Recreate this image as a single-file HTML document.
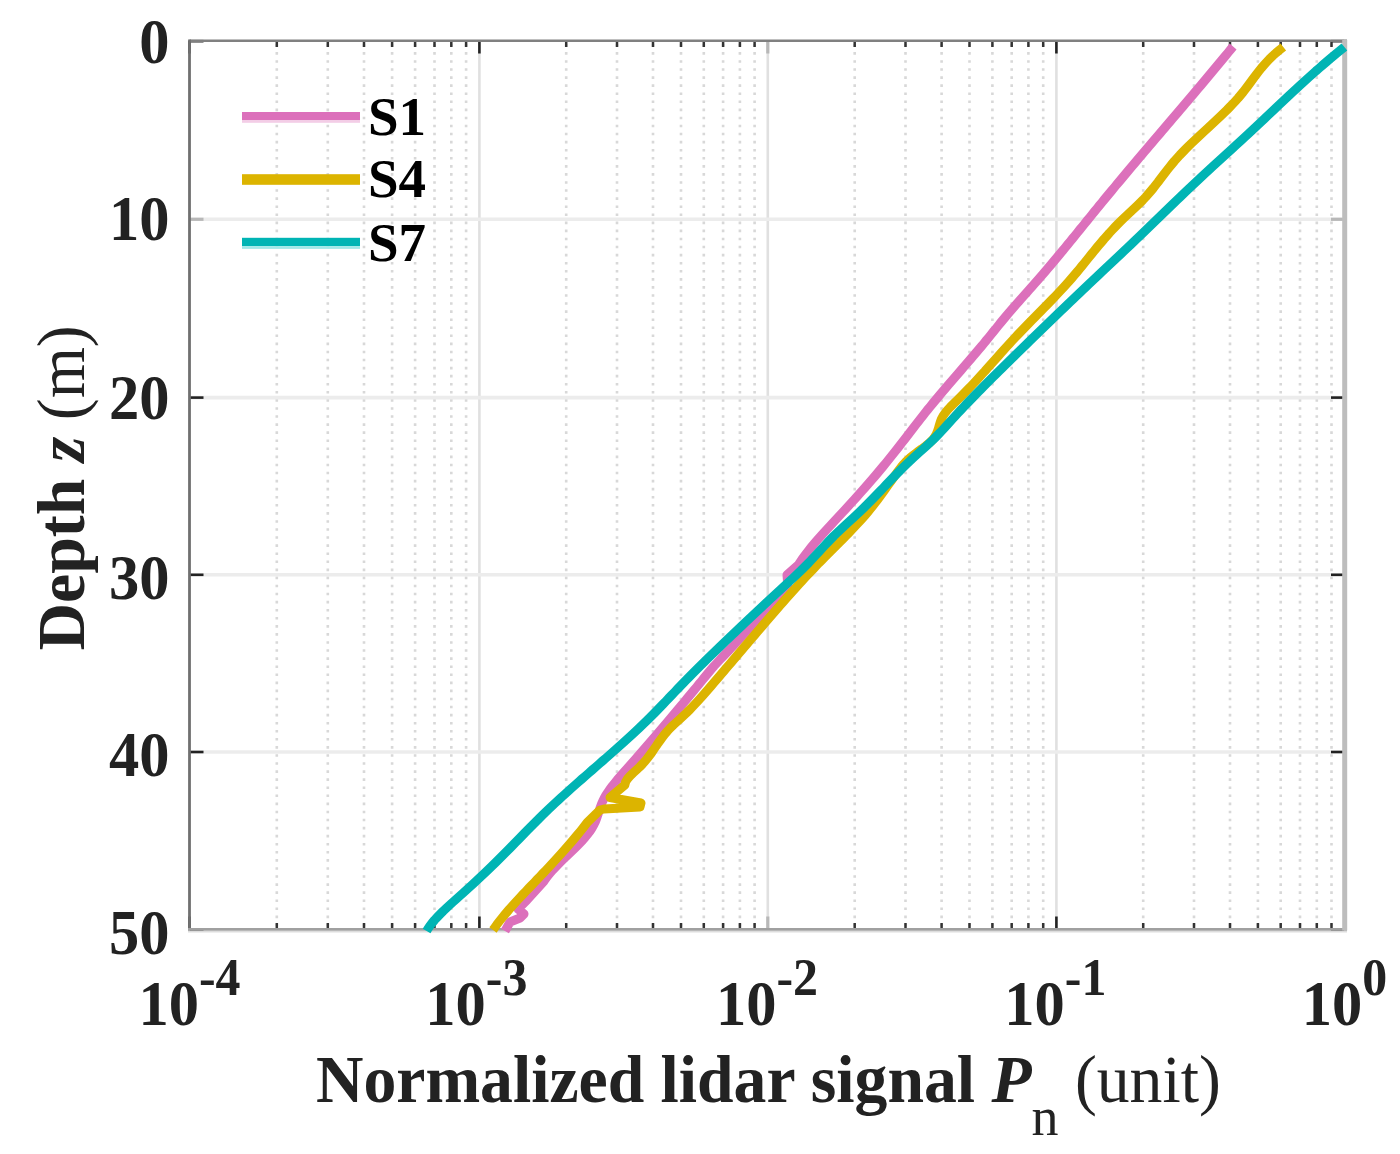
<!DOCTYPE html><html><head><meta charset="utf-8"><style>html,body{margin:0;padding:0;background:#fff;overflow:hidden;}svg{display:block;}text{font-family:"Liberation Serif",serif;}</style></head><body><div id="w">
<svg width="1400" height="1154" viewBox="0 0 1400 1154">
<rect width="1400" height="1154" fill="#fff"/>
<g stroke="#d8d8d8" stroke-width="2.6" stroke-dasharray="2.6 5.47"><line x1="276.8" y1="44" x2="276.8" y2="928"/><line x1="327.8" y1="44" x2="327.8" y2="928"/><line x1="364.0" y1="44" x2="364.0" y2="928"/><line x1="392.1" y1="44" x2="392.1" y2="928"/><line x1="415.1" y1="44" x2="415.1" y2="928"/><line x1="434.5" y1="44" x2="434.5" y2="928"/><line x1="451.3" y1="44" x2="451.3" y2="928"/><line x1="466.1" y1="44" x2="466.1" y2="928"/><line x1="566.2" y1="44" x2="566.2" y2="928"/><line x1="617.0" y1="44" x2="617.0" y2="928"/><line x1="653.0" y1="44" x2="653.0" y2="928"/><line x1="681.0" y1="44" x2="681.0" y2="928"/><line x1="703.8" y1="44" x2="703.8" y2="928"/><line x1="723.1" y1="44" x2="723.1" y2="928"/><line x1="739.9" y1="44" x2="739.9" y2="928"/><line x1="754.6" y1="44" x2="754.6" y2="928"/><line x1="854.7" y1="44" x2="854.7" y2="928"/><line x1="905.5" y1="44" x2="905.5" y2="928"/><line x1="941.6" y1="44" x2="941.6" y2="928"/><line x1="969.5" y1="44" x2="969.5" y2="928"/><line x1="992.4" y1="44" x2="992.4" y2="928"/><line x1="1011.7" y1="44" x2="1011.7" y2="928"/><line x1="1028.4" y1="44" x2="1028.4" y2="928"/><line x1="1043.2" y1="44" x2="1043.2" y2="928"/><line x1="1143.2" y1="44" x2="1143.2" y2="928"/><line x1="1194.0" y1="44" x2="1194.0" y2="928"/><line x1="1230.0" y1="44" x2="1230.0" y2="928"/><line x1="1257.9" y1="44" x2="1257.9" y2="928"/><line x1="1280.7" y1="44" x2="1280.7" y2="928"/><line x1="1300.0" y1="44" x2="1300.0" y2="928"/><line x1="1316.8" y1="44" x2="1316.8" y2="928"/><line x1="1331.5" y1="44" x2="1331.5" y2="928"/></g>
<g stroke="#e0e0e0" stroke-width="2.6"><line x1="479.4" y1="42" x2="479.4" y2="928"/><line x1="767.8" y1="42" x2="767.8" y2="928"/><line x1="1056.4" y1="42" x2="1056.4" y2="928"/></g>
<g stroke="#ececec" stroke-width="3.6"><line x1="191" y1="219.3" x2="1342" y2="219.3"/><line x1="191" y1="397.6" x2="1342" y2="397.6"/><line x1="191" y1="574.8" x2="1342" y2="574.8"/><line x1="191" y1="752.0" x2="1342" y2="752.0"/></g>
<g stroke="#222" stroke-width="2.6"><line x1="190" y1="41.2" x2="203.5" y2="41.2"/><line x1="1331" y1="41.2" x2="1344" y2="41.2"/><line x1="190" y1="397.6" x2="203.5" y2="397.6"/><line x1="1331" y1="397.6" x2="1344" y2="397.6"/><line x1="190" y1="574.8" x2="203.5" y2="574.8"/><line x1="1331" y1="574.8" x2="1344" y2="574.8"/><line x1="190" y1="752.0" x2="203.5" y2="752.0"/><line x1="1331" y1="752.0" x2="1344" y2="752.0"/><line x1="190" y1="929.3" x2="203.5" y2="929.3"/><line x1="1331" y1="929.3" x2="1344" y2="929.3"/><line x1="189.5" y1="929" x2="189.5" y2="916.5"/><line x1="189.5" y1="41" x2="189.5" y2="53.5"/><line x1="479.4" y1="929" x2="479.4" y2="916.5"/><line x1="479.4" y1="41" x2="479.4" y2="53.5"/><line x1="1056.4" y1="929" x2="1056.4" y2="916.5"/><line x1="1056.4" y1="41" x2="1056.4" y2="53.5"/><line x1="1344.7" y1="929" x2="1344.7" y2="916.5"/><line x1="1344.7" y1="41" x2="1344.7" y2="53.5"/></g>
<g stroke="#b8b8b8" stroke-width="3.2"><line x1="190" y1="219.3" x2="203.5" y2="219.3"/><line x1="1331" y1="219.3" x2="1344" y2="219.3"/><line x1="767.8" y1="929" x2="767.8" y2="916.5"/><line x1="767.8" y1="41" x2="767.8" y2="53.5"/></g>
<g stroke="#333" stroke-width="2.5"><line x1="276.8" y1="929" x2="276.8" y2="923"/><line x1="276.8" y1="41" x2="276.8" y2="47"/><line x1="327.8" y1="929" x2="327.8" y2="923"/><line x1="327.8" y1="41" x2="327.8" y2="47"/><line x1="364.0" y1="929" x2="364.0" y2="923"/><line x1="364.0" y1="41" x2="364.0" y2="47"/><line x1="392.1" y1="929" x2="392.1" y2="923"/><line x1="392.1" y1="41" x2="392.1" y2="47"/><line x1="415.1" y1="929" x2="415.1" y2="923"/><line x1="415.1" y1="41" x2="415.1" y2="47"/><line x1="434.5" y1="929" x2="434.5" y2="923"/><line x1="434.5" y1="41" x2="434.5" y2="47"/><line x1="451.3" y1="929" x2="451.3" y2="923"/><line x1="451.3" y1="41" x2="451.3" y2="47"/><line x1="466.1" y1="929" x2="466.1" y2="923"/><line x1="466.1" y1="41" x2="466.1" y2="47"/><line x1="566.2" y1="929" x2="566.2" y2="923"/><line x1="566.2" y1="41" x2="566.2" y2="47"/><line x1="617.0" y1="929" x2="617.0" y2="923"/><line x1="617.0" y1="41" x2="617.0" y2="47"/><line x1="653.0" y1="929" x2="653.0" y2="923"/><line x1="653.0" y1="41" x2="653.0" y2="47"/><line x1="681.0" y1="929" x2="681.0" y2="923"/><line x1="681.0" y1="41" x2="681.0" y2="47"/><line x1="703.8" y1="929" x2="703.8" y2="923"/><line x1="703.8" y1="41" x2="703.8" y2="47"/><line x1="723.1" y1="929" x2="723.1" y2="923"/><line x1="723.1" y1="41" x2="723.1" y2="47"/><line x1="739.9" y1="929" x2="739.9" y2="923"/><line x1="739.9" y1="41" x2="739.9" y2="47"/><line x1="754.6" y1="929" x2="754.6" y2="923"/><line x1="754.6" y1="41" x2="754.6" y2="47"/><line x1="854.7" y1="929" x2="854.7" y2="923"/><line x1="854.7" y1="41" x2="854.7" y2="47"/><line x1="905.5" y1="929" x2="905.5" y2="923"/><line x1="905.5" y1="41" x2="905.5" y2="47"/><line x1="941.6" y1="929" x2="941.6" y2="923"/><line x1="941.6" y1="41" x2="941.6" y2="47"/><line x1="969.5" y1="929" x2="969.5" y2="923"/><line x1="969.5" y1="41" x2="969.5" y2="47"/><line x1="992.4" y1="929" x2="992.4" y2="923"/><line x1="992.4" y1="41" x2="992.4" y2="47"/><line x1="1011.7" y1="929" x2="1011.7" y2="923"/><line x1="1011.7" y1="41" x2="1011.7" y2="47"/><line x1="1028.4" y1="929" x2="1028.4" y2="923"/><line x1="1028.4" y1="41" x2="1028.4" y2="47"/><line x1="1043.2" y1="929" x2="1043.2" y2="923"/><line x1="1043.2" y1="41" x2="1043.2" y2="47"/><line x1="1143.2" y1="929" x2="1143.2" y2="923"/><line x1="1143.2" y1="41" x2="1143.2" y2="47"/><line x1="1194.0" y1="929" x2="1194.0" y2="923"/><line x1="1194.0" y1="41" x2="1194.0" y2="47"/><line x1="1230.0" y1="929" x2="1230.0" y2="923"/><line x1="1230.0" y1="41" x2="1230.0" y2="47"/><line x1="1257.9" y1="929" x2="1257.9" y2="923"/><line x1="1257.9" y1="41" x2="1257.9" y2="47"/><line x1="1280.7" y1="929" x2="1280.7" y2="923"/><line x1="1280.7" y1="41" x2="1280.7" y2="47"/><line x1="1300.0" y1="929" x2="1300.0" y2="923"/><line x1="1300.0" y1="41" x2="1300.0" y2="47"/><line x1="1316.8" y1="929" x2="1316.8" y2="923"/><line x1="1316.8" y1="41" x2="1316.8" y2="47"/><line x1="1331.5" y1="929" x2="1331.5" y2="923"/><line x1="1331.5" y1="41" x2="1331.5" y2="47"/></g>
<line x1="189.5" y1="40.8" x2="1347" y2="40.8" stroke="#808080" stroke-width="2.4"/>
<line x1="189.5" y1="39.6" x2="189.5" y2="930.6" stroke="#707070" stroke-width="2.8"/>
<line x1="188" y1="929.3" x2="1347" y2="929.3" stroke="#a0a0a0" stroke-width="2.8"/>
<line x1="188" y1="931.8" x2="1347" y2="931.8" stroke="#dddddd" stroke-width="1.6"/>
<line x1="1344.7" y1="40" x2="1344.7" y2="930.6" stroke="#bdbdbd" stroke-width="5"/>
<g fill="none" stroke-width="9" stroke-linejoin="round" stroke-linecap="butt">
<polyline stroke="#dc70bb" points="1233.1,46.5 1230.6,49.5 1228.2,52.5 1225.7,55.5 1223.2,58.5 1220.7,61.5 1218.2,64.5 1215.7,67.5 1213.2,70.5 1210.7,73.5 1208.2,76.5 1205.7,79.5 1203.2,82.5 1200.7,85.5 1198.1,88.5 1195.6,91.5 1193.1,94.5 1190.5,97.5 1188.0,100.5 1185.4,103.5 1182.9,106.5 1180.3,109.5 1177.8,112.5 1175.2,115.5 1172.6,118.5 1170.1,121.5 1167.5,124.5 1165.0,127.5 1162.4,130.5 1159.9,133.5 1157.3,136.5 1154.7,139.5 1152.2,142.5 1149.6,145.5 1147.1,148.5 1144.5,151.5 1142.0,154.5 1139.4,157.5 1136.9,160.5 1134.4,163.5 1131.8,166.5 1129.3,169.5 1126.8,172.5 1124.3,175.5 1121.8,178.5 1119.3,181.5 1116.7,184.5 1114.3,187.5 1111.8,190.5 1109.3,193.5 1106.8,196.5 1104.3,199.5 1101.9,202.5 1099.4,205.5 1097.0,208.5 1094.5,211.5 1092.1,214.5 1089.7,217.5 1087.2,220.5 1084.8,223.5 1082.4,226.5 1079.9,229.5 1077.5,232.5 1075.1,235.5 1072.6,238.5 1070.2,241.5 1067.7,244.5 1065.3,247.5 1062.8,250.5 1060.3,253.5 1057.8,256.5 1055.3,259.5 1052.8,262.5 1050.3,265.5 1047.7,268.5 1045.2,271.5 1042.6,274.5 1040.0,277.5 1037.4,280.5 1034.7,283.5 1032.1,286.5 1029.4,289.5 1026.8,292.5 1024.1,295.5 1021.4,298.5 1018.8,301.5 1016.1,304.5 1013.5,307.5 1010.9,310.5 1008.3,313.5 1005.8,316.5 1003.3,319.5 1000.8,322.5 998.4,325.5 996.0,328.5 993.5,331.5 991.1,334.5 988.7,337.5 986.2,340.5 983.8,343.5 981.3,346.5 978.7,349.5 976.2,352.5 973.6,355.5 971.1,358.5 968.5,361.5 965.9,364.5 963.3,367.5 960.8,370.5 958.2,373.5 955.6,376.5 953.0,379.5 950.4,382.5 947.8,385.5 945.3,388.5 942.7,391.5 940.2,394.5 937.7,397.5 935.2,400.5 932.7,403.5 930.3,406.5 927.8,409.5 925.4,412.5 923.1,415.5 920.7,418.5 918.4,421.5 916.0,424.5 913.7,427.5 911.4,430.5 909.1,433.5 906.8,436.5 904.5,439.5 902.1,442.5 899.8,445.5 897.5,448.5 895.1,451.5 892.7,454.5 890.3,457.5 887.9,460.5 885.5,463.5 883.0,466.5 880.5,469.5 878.0,472.5 875.5,475.5 872.9,478.5 870.3,481.5 867.7,484.5 865.1,487.5 862.4,490.5 859.7,493.5 857.1,496.5 854.4,499.5 851.6,502.5 848.9,505.5 846.2,508.5 843.4,511.5 840.6,514.5 837.8,517.5 835.0,520.5 832.3,523.5 829.5,526.5 826.7,529.5 824.0,532.5 821.3,535.5 818.6,538.5 816.0,541.5 813.5,544.5 811.0,547.5 808.6,550.5 806.3,553.5 804.1,556.5 801.9,559.5 799.9,562.5 798.6,564.5 787.0,574.9 788.0,587.9 779.1,597.0 776.9,600.0 774.5,603.0 771.8,606.0 769.1,609.0 766.2,612.0 763.2,615.0 760.1,618.0 757.0,621.0 753.9,624.0 750.9,627.0 747.9,630.0 745.1,633.0 742.3,636.0 739.5,639.0 736.8,642.0 734.0,645.0 731.2,648.0 728.3,651.0 725.4,654.0 722.5,657.0 719.7,660.0 716.9,663.0 714.1,666.0 711.5,669.0 709.0,672.0 706.5,675.0 704.0,678.0 701.6,681.0 699.1,684.0 696.7,687.0 694.2,690.0 691.7,693.0 689.2,696.0 686.7,699.0 684.3,702.0 681.8,705.0 679.2,708.0 676.7,711.0 674.2,714.0 671.7,717.0 669.2,720.0 666.6,723.0 664.1,726.0 661.5,729.0 659.0,732.0 656.4,735.0 653.8,738.0 651.2,741.0 648.6,744.0 646.0,747.0 643.4,750.0 640.8,753.0 638.2,756.0 635.6,759.0 632.9,762.0 630.3,765.0 627.6,768.0 624.9,771.0 622.3,774.0 619.7,777.0 617.1,780.0 614.7,783.0 612.3,786.0 610.1,789.0 608.0,792.0 606.0,795.0 604.3,798.0 602.8,801.0 601.5,804.0 600.4,807.0 599.4,810.0 598.4,813.0 597.4,816.0 596.4,819.0 595.2,822.0 593.7,825.0 592.0,828.0 590.1,831.0 587.8,834.0 585.4,837.0 582.8,840.0 579.9,843.0 577.0,846.0 574.0,849.0 570.9,852.0 567.8,855.0 564.6,858.0 561.5,861.0 558.5,864.0 555.6,867.0 552.7,870.0 550.1,873.0 547.6,876.0 545.4,879.0 543.8,881.4 527.0,900.0 518.0,909.0 524.0,914.0 520.0,918.0 510.0,922.0 505.0,931.0"/>
<polyline stroke="#dcb400" points="1283.3,47.0 1279.5,50.0 1275.9,53.0 1272.6,56.0 1269.5,59.0 1266.7,62.0 1264.0,65.0 1261.4,68.0 1259.0,71.0 1256.7,74.0 1254.4,77.0 1252.2,80.0 1250.0,83.0 1247.8,86.0 1245.5,89.0 1243.2,92.0 1240.7,95.0 1238.2,98.0 1235.5,101.0 1232.7,104.0 1229.8,107.0 1226.9,110.0 1223.8,113.0 1220.7,116.0 1217.5,119.0 1214.3,122.0 1211.1,125.0 1207.9,128.0 1204.6,131.0 1201.4,134.0 1198.2,137.0 1195.0,140.0 1191.8,143.0 1188.7,146.0 1185.7,149.0 1182.8,152.0 1179.9,155.0 1177.2,158.0 1174.5,161.0 1172.0,164.0 1169.6,167.0 1167.2,170.0 1164.9,173.0 1162.6,176.0 1160.3,179.0 1158.1,182.0 1155.7,185.0 1153.4,188.0 1150.9,191.0 1148.3,194.0 1145.7,197.0 1142.9,200.0 1139.9,203.0 1136.8,206.0 1133.6,209.0 1130.4,212.0 1127.2,215.0 1124.0,218.0 1120.9,221.0 1117.9,224.0 1115.0,227.0 1112.2,230.0 1109.4,233.0 1106.8,236.0 1104.1,239.0 1101.6,242.0 1099.0,245.0 1096.5,248.0 1094.1,251.0 1091.6,254.0 1089.2,257.0 1086.8,260.0 1084.4,263.0 1081.9,266.0 1079.5,269.0 1077.0,272.0 1074.4,275.0 1071.9,278.0 1069.3,281.0 1066.6,284.0 1063.9,287.0 1061.1,290.0 1058.3,293.0 1055.5,296.0 1052.6,299.0 1049.7,302.0 1046.8,305.0 1043.8,308.0 1040.9,311.0 1037.9,314.0 1035.0,317.0 1032.0,320.0 1029.1,323.0 1026.2,326.0 1023.3,329.0 1020.4,332.0 1017.5,335.0 1014.7,338.0 1011.9,341.0 1009.2,344.0 1006.4,347.0 1003.7,350.0 1001.0,353.0 998.4,356.0 995.7,359.0 993.0,362.0 990.3,365.0 987.6,368.0 985.0,371.0 982.2,374.0 979.5,377.0 976.8,380.0 974.0,383.0 971.2,386.0 968.3,389.0 965.4,392.0 962.5,395.0 959.5,398.0 956.4,401.0 953.3,404.0 950.3,407.0 947.5,410.0 945.1,413.0 943.0,416.0 941.4,419.0 940.3,422.0 939.4,425.0 938.6,428.0 937.6,431.0 936.4,434.0 934.7,437.0 932.4,440.0 929.3,443.0 925.6,446.0 921.6,449.0 917.4,452.0 913.5,455.0 909.8,458.0 906.5,461.0 903.8,464.0 901.3,467.0 899.0,470.0 896.8,473.0 894.7,476.0 892.5,479.0 890.3,482.0 888.2,485.0 886.1,488.0 883.9,491.0 881.7,494.0 879.5,497.0 877.3,500.0 875.0,503.0 872.7,506.0 870.3,509.0 867.8,512.0 865.3,515.0 862.7,518.0 860.0,521.0 857.2,524.0 854.4,527.0 851.6,530.0 848.7,533.0 845.7,536.0 842.8,539.0 839.8,542.0 836.8,545.0 833.8,548.0 830.8,551.0 827.8,554.0 824.8,557.0 821.9,560.0 818.9,563.0 816.1,566.0 813.2,569.0 810.3,572.0 807.5,575.0 804.7,578.0 802.0,581.0 799.2,584.0 796.5,587.0 793.8,590.0 791.1,593.0 788.4,596.0 785.7,599.0 783.1,602.0 780.4,605.0 777.8,608.0 775.2,611.0 772.6,614.0 770.0,617.0 767.4,620.0 764.8,623.0 762.3,626.0 759.7,629.0 757.1,632.0 754.6,635.0 752.0,638.0 749.4,641.0 746.9,644.0 744.3,647.0 741.8,650.0 739.2,653.0 736.7,656.0 734.1,659.0 731.6,662.0 729.0,665.0 726.4,668.0 723.9,671.0 721.3,674.0 718.8,677.0 716.2,680.0 713.6,683.0 711.1,686.0 708.5,689.0 705.9,692.0 703.3,695.0 700.6,698.0 697.9,701.0 695.1,704.0 692.3,707.0 689.4,710.0 686.4,713.0 683.2,716.0 680.0,719.0 676.7,722.0 673.4,725.0 670.3,728.0 667.5,731.0 664.9,734.0 662.6,737.0 660.4,740.0 658.2,743.0 656.2,746.0 654.1,749.0 652.1,752.0 649.9,755.0 647.6,758.0 645.2,761.0 642.5,764.0 639.6,767.0 636.4,770.0 633.1,773.0 630.0,776.0 627.4,779.0 625.6,782.0 624.8,785.0 610.0,797.5 641.0,803.0 640.0,807.0 604.0,809.0 600.0,810.0 587.2,822.5 584.9,825.5 582.6,828.5 580.2,831.5 577.7,834.5 575.2,837.5 572.7,840.5 570.1,843.5 567.5,846.5 564.9,849.5 562.2,852.5 559.5,855.5 556.8,858.5 554.0,861.5 551.3,864.5 548.5,867.5 545.7,870.5 542.8,873.5 540.0,876.5 537.1,879.5 534.3,882.5 531.4,885.5 528.5,888.5 525.7,891.5 522.8,894.5 520.0,897.5 517.2,900.5 514.5,903.5 511.8,906.5 509.1,909.5 506.6,912.5 504.0,915.5 501.6,918.5 499.2,921.5 496.9,924.5 494.8,927.5 493.0,930.0"/>
<polyline stroke="#00b4b4" points="1344.4,47.0 1340.7,50.0 1337.0,53.0 1333.4,56.0 1329.8,59.0 1326.3,62.0 1322.8,65.0 1319.4,68.0 1315.9,71.0 1312.6,74.0 1309.2,77.0 1305.9,80.0 1302.6,83.0 1299.3,86.0 1296.1,89.0 1292.8,92.0 1289.6,95.0 1286.4,98.0 1283.2,101.0 1280.0,104.0 1276.8,107.0 1273.7,110.0 1270.5,113.0 1267.3,116.0 1264.2,119.0 1261.0,122.0 1257.8,125.0 1254.6,128.0 1251.4,131.0 1248.2,134.0 1244.9,137.0 1241.7,140.0 1238.4,143.0 1235.1,146.0 1231.9,149.0 1228.6,152.0 1225.3,155.0 1222.0,158.0 1218.7,161.0 1215.4,164.0 1212.1,167.0 1208.9,170.0 1205.6,173.0 1202.4,176.0 1199.2,179.0 1196.0,182.0 1192.8,185.0 1189.6,188.0 1186.4,191.0 1183.3,194.0 1180.2,197.0 1177.0,200.0 1173.9,203.0 1170.8,206.0 1167.7,209.0 1164.6,212.0 1161.5,215.0 1158.4,218.0 1155.3,221.0 1152.2,224.0 1149.1,227.0 1146.0,230.0 1142.9,233.0 1139.8,236.0 1136.6,239.0 1133.5,242.0 1130.4,245.0 1127.2,248.0 1124.0,251.0 1120.9,254.0 1117.7,257.0 1114.5,260.0 1111.3,263.0 1108.1,266.0 1104.9,269.0 1101.7,272.0 1098.6,275.0 1095.4,278.0 1092.2,281.0 1089.0,284.0 1085.9,287.0 1082.7,290.0 1079.6,293.0 1076.4,296.0 1073.3,299.0 1070.1,302.0 1067.0,305.0 1063.9,308.0 1060.7,311.0 1057.6,314.0 1054.5,317.0 1051.4,320.0 1048.3,323.0 1045.2,326.0 1042.1,329.0 1039.0,332.0 1035.9,335.0 1032.8,338.0 1029.7,341.0 1026.7,344.0 1023.6,347.0 1020.5,350.0 1017.4,353.0 1014.4,356.0 1011.3,359.0 1008.3,362.0 1005.2,365.0 1002.2,368.0 999.1,371.0 996.1,374.0 993.0,377.0 990.0,380.0 987.0,383.0 984.0,386.0 981.1,389.0 978.1,392.0 975.2,395.0 972.3,398.0 969.4,401.0 966.5,404.0 963.7,407.0 960.8,410.0 958.0,413.0 955.3,416.0 952.5,419.0 949.8,422.0 947.1,425.0 944.4,428.0 941.6,431.0 938.7,434.0 935.8,437.0 932.8,440.0 929.6,443.0 926.4,446.0 923.1,449.0 919.7,452.0 916.4,455.0 913.1,458.0 909.9,461.0 906.7,464.0 903.6,467.0 900.6,470.0 897.6,473.0 894.7,476.0 891.8,479.0 888.9,482.0 886.0,485.0 883.2,488.0 880.3,491.0 877.4,494.0 874.5,497.0 871.6,500.0 868.6,503.0 865.6,506.0 862.6,509.0 859.5,512.0 856.3,515.0 853.1,518.0 849.8,521.0 846.5,524.0 843.3,527.0 840.1,530.0 836.9,533.0 833.8,536.0 830.9,539.0 828.0,542.0 825.2,545.0 822.4,548.0 819.7,551.0 816.9,554.0 814.1,557.0 811.3,560.0 808.5,563.0 805.5,566.0 802.5,569.0 799.4,572.0 796.3,575.0 793.1,578.0 789.8,581.0 786.6,584.0 783.3,587.0 780.1,590.0 776.8,593.0 773.6,596.0 770.3,599.0 767.1,602.0 763.9,605.0 760.7,608.0 757.5,611.0 754.3,614.0 751.1,617.0 747.9,620.0 744.7,623.0 741.6,626.0 738.4,629.0 735.3,632.0 732.1,635.0 729.0,638.0 725.8,641.0 722.7,644.0 719.6,647.0 716.5,650.0 713.4,653.0 710.3,656.0 707.2,659.0 704.2,662.0 701.1,665.0 698.1,668.0 695.1,671.0 692.1,674.0 689.2,677.0 686.2,680.0 683.3,683.0 680.4,686.0 677.5,689.0 674.7,692.0 671.8,695.0 668.9,698.0 666.1,701.0 663.2,704.0 660.3,707.0 657.4,710.0 654.5,713.0 651.5,716.0 648.5,719.0 645.4,722.0 642.3,725.0 639.2,728.0 636.0,731.0 632.8,734.0 629.5,737.0 626.2,740.0 622.9,743.0 619.5,746.0 616.2,749.0 612.8,752.0 609.4,755.0 606.0,758.0 602.5,761.0 599.1,764.0 595.7,767.0 592.2,770.0 588.8,773.0 585.4,776.0 581.9,779.0 578.5,782.0 575.1,785.0 571.7,788.0 568.4,791.0 565.1,794.0 561.7,797.0 558.5,800.0 555.2,803.0 552.0,806.0 548.8,809.0 545.7,812.0 542.6,815.0 539.6,818.0 536.6,821.0 533.6,824.0 530.6,827.0 527.6,830.0 524.7,833.0 521.8,836.0 518.9,839.0 515.9,842.0 513.0,845.0 510.1,848.0 507.1,851.0 504.1,854.0 501.1,857.0 498.1,860.0 495.1,863.0 492.0,866.0 488.9,869.0 485.8,872.0 482.6,875.0 479.4,878.0 476.2,881.0 473.0,884.0 469.7,887.0 466.4,890.0 463.1,893.0 459.7,896.0 456.4,899.0 453.0,902.0 449.7,905.0 446.5,908.0 443.3,911.0 440.3,914.0 437.4,917.0 434.6,920.0 432.1,923.0 429.8,926.0 427.8,929.0 426.6,931.0"/>
</g>
<rect x="242" y="112" width="118" height="8" fill="#dc70bb"/><rect x="242" y="120" width="118" height="2.8" fill="#f3cde6"/>
<rect x="242" y="174.2" width="118" height="10.6" fill="#dcb400"/>
<rect x="242" y="237.8" width="118" height="8.3" fill="#00b4b4"/><rect x="242" y="246.1" width="118" height="2.8" fill="#a0e8e8"/>
<g font-weight="bold" font-size="55" fill="#000">
<text x="368" y="135">S1</text><text x="368" y="196.5">S4</text><text x="368" y="261.2">S7</text></g>
<g font-weight="bold" font-size="63" fill="#222" text-anchor="end">
<text transform="translate(169.5,63.0) scale(0.96,1)">0</text>
<text transform="translate(169.5,240.3) scale(0.96,1)">10</text>
<text transform="translate(169.5,419.0) scale(0.96,1)">20</text>
<text transform="translate(169.5,599.0) scale(0.96,1)">30</text>
<text transform="translate(169.5,776.3) scale(0.96,1)">40</text>
<text transform="translate(169.5,953.5) scale(0.96,1)">50</text>
</g>
<g font-weight="bold" fill="#222">
<text transform="translate(189.5,1024.5) scale(0.96,1)" font-size="63" text-anchor="middle">10<tspan font-size="52" dy="-30">-4</tspan></text>
<text transform="translate(476.4,1024.5) scale(0.96,1)" font-size="63" text-anchor="middle">10<tspan font-size="52" dy="-30">-3</tspan></text>
<text transform="translate(767.0,1024.5) scale(0.96,1)" font-size="63" text-anchor="middle">10<tspan font-size="52" dy="-30">-2</tspan></text>
<text transform="translate(1055.4,1024.5) scale(0.96,1)" font-size="63" text-anchor="middle">10<tspan font-size="52" dy="-30">-1</tspan></text>
<text transform="translate(1344.5,1024.5) scale(0.96,1)" font-size="63" text-anchor="middle">10<tspan font-size="52" dy="-30">0</tspan></text>
</g>
<text transform="translate(83.5,650.5) rotate(-90) scale(0.982,1)" font-size="67" fill="#222"><tspan font-weight="bold">Depth </tspan><tspan font-weight="bold" font-style="italic">z</tspan><tspan> (m)</tspan></text>
<text transform="translate(316,1101.5) scale(0.98,1)" font-size="67" fill="#222"><tspan font-weight="bold">Normalized lidar signal </tspan><tspan font-weight="bold" font-style="italic">P</tspan><tspan font-size="55" dy="33">n</tspan><tspan dy="-33"> (unit)</tspan></text>
</svg></div></body></html>
